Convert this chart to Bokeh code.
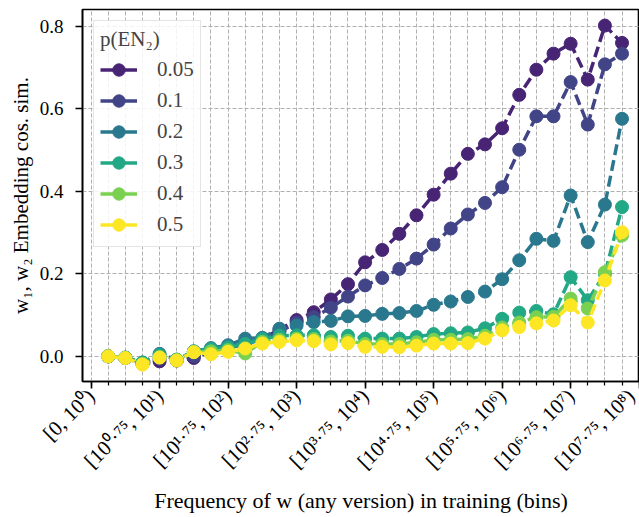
import math
from bokeh.plotting import figure
from bokeh.models import FixedTicker, Legend, LegendItem, Range1d, PrintfTickFormatter
from bokeh.embed import file_html
from bokeh.resources import INLINE

# ---- data ----
bins = list(range(1, 32))
tick_positions = [0, 4, 8, 12, 16, 20, 24, 28, 32]
tick_labels = ["[0, 10⁰)", "[10⁰·⁷⁵, 10¹)", "[10¹·⁷⁵, 10²)", "[10²·⁷⁵, 10³)",
               "[10³·⁷⁵, 10⁴)", "[10⁴·⁷⁵, 10⁵)", "[10⁵·⁷⁵, 10⁶)", "[10⁶·⁷⁵, 10⁷)",
               "[10⁷·⁷⁵, 10⁸)"]
series_names = ["0.05", "0.1", "0.2", "0.3", "0.4", "0.5"]
colors = ["#482475", "#414487", "#2a788e", "#22a884", "#7ad151", "#fde725"]

y_005 = [0.0, -0.004, -0.018, -0.012, -0.01, -0.004, 0.012, 0.02, 0.03, 0.042,
         0.065, 0.088, 0.107, 0.138, 0.175, 0.228, 0.258, 0.297, 0.342, 0.392,
         0.443, 0.491, 0.514, 0.553, 0.634, 0.695, 0.734, 0.758, 0.671, 0.802, 0.760]
y_01 = [0.0, -0.004, -0.016, -0.006, -0.01, 0.0, 0.012, 0.02, 0.032, 0.042,
        0.06, 0.082, 0.095, 0.118, 0.145, 0.172, 0.19, 0.212, 0.237, 0.271,
        0.31, 0.344, 0.372, 0.41, 0.501, 0.582, 0.582, 0.665, 0.562, 0.708, 0.734]
y_02 = [0.0, -0.003, -0.015, 0.006, -0.008, 0.012, 0.02, 0.027, 0.043, 0.045,
        0.067, 0.075, 0.083, 0.086, 0.097, 0.098, 0.103, 0.105, 0.11, 0.125,
        0.133, 0.144, 0.157, 0.187, 0.233, 0.285, 0.28, 0.39, 0.277, 0.368, 0.576]
y_03 = [0.0, -0.003, -0.015, 0.003, -0.008, 0.012, 0.018, 0.022, 0.03, 0.042,
        0.05, 0.051, 0.051, 0.047, 0.05, 0.043, 0.043, 0.043, 0.047, 0.054,
        0.056, 0.058, 0.068, 0.091, 0.106, 0.11, 0.102, 0.192, 0.136, 0.2, 0.362]
y_04 = [0.0, -0.004, -0.018, -0.002, -0.009, 0.011, 0.012, 0.015, 0.007, 0.035,
        0.04, 0.043, 0.042, 0.036, 0.038, 0.03, 0.03, 0.03, 0.034, 0.04,
        0.04, 0.042, 0.05, 0.07, 0.082, 0.095, 0.096, 0.14, 0.116, 0.204, 0.293]
y_05 = [0.0, -0.004, -0.02, -0.003, -0.01, 0.01, 0.005, 0.011, 0.019, 0.031,
        0.035, 0.039, 0.037, 0.029, 0.032, 0.023, 0.023, 0.022, 0.026, 0.031,
        0.031, 0.032, 0.043, 0.063, 0.071, 0.08, 0.087, 0.124, 0.082, 0.184, 0.301]
series_values = [y_005, y_01, y_02, y_03, y_04, y_05]

FONT = "Liberation Serif"

p = figure(width=639, height=517, output_backend="svg", toolbar_location=None,
           x_range=Range1d(-0.5, 32.02), y_range=Range1d(-0.061, 0.841),
           min_border_left=82, min_border_right=0, min_border_top=9,
           min_border_bottom=136)

p.outline_line_color = "black"
p.outline_line_width = 1.6
p.outline_line_alpha = 1.0

# axes
p.xaxis.ticker = FixedTicker(ticks=tick_positions, minor_ticks=list(range(0, 33)))
p.xaxis.major_label_overrides = {t: l for t, l in zip(tick_positions, tick_labels)}
p.xaxis.major_label_orientation = math.pi / 4
p.yaxis.ticker = FixedTicker(ticks=[0.0, 0.2, 0.4, 0.6, 0.8], minor_ticks=[])
p.yaxis.formatter = PrintfTickFormatter(format="%.1f")
for ax in (p.xaxis[0], p.yaxis[0]):
    ax.axis_line_color = "black"
    ax.axis_line_width = 1.6
    ax.major_tick_line_color = "black"
    ax.major_tick_line_width = 1.6
    ax.minor_tick_line_color = "black"
    ax.minor_tick_line_width = 1.2
    ax.major_tick_in = 0
    ax.major_tick_out = 7
    ax.minor_tick_in = 0
    ax.minor_tick_out = 4
    ax.major_label_text_font = FONT
    ax.major_label_text_color = "black"
    ax.axis_label_text_font = FONT
    ax.axis_label_text_font_style = "normal"
    ax.axis_label_text_color = "black"
p.yaxis.major_label_text_font_size = "19px"
p.xaxis.major_label_text_font_size = "21px"
p.xaxis.axis_label_text_font_size = "22px"
p.yaxis.axis_label_text_font_size = "21px"
p.yaxis.major_label_standoff = 12
p.xaxis.major_label_standoff = 4
p.xaxis.axis_label = "Frequency of w (any version) in training (bins)"
p.yaxis.axis_label = "w₁, w₂ Embedding cos. sim."
p.yaxis.axis_label_standoff = 4
p.xaxis.axis_label_standoff = 3

# grid
p.xgrid.ticker = FixedTicker(ticks=list(range(0, 33)))
for g in (p.xgrid[0], p.ygrid[0]):
    g.grid_line_color = "#b0b0b0"
    g.grid_line_dash = "4 2"
    g.grid_line_width = 1
    g.grid_line_alpha = 1.0

nan = float("nan")
items = []
for name, ys, c in zip(series_names, series_values, colors):
    p.line(x=bins, y=ys, line_color=c, line_width=3.5, line_dash="11 5")
    sc = p.scatter(x=bins, y=ys, size=13, fill_color=c, line_color=c)
    key = p.line(x=[nan], y=[nan], line_color=c, line_width=3.5)
    items.append(LegendItem(label=name, renderers=[key, sc]))

legend = Legend(items=items, location="top_left", title="p(EN₂)")
legend.title_text_font = FONT
legend.title_text_font_size = "21px"
legend.title_text_font_style = "normal"
legend.label_text_font = FONT
legend.label_text_font_size = "21px"
legend.glyph_width = 37
legend.glyph_height = 31
legend.label_height = 31
legend.label_standoff = 20
legend.spacing = 0
legend.padding = 6
legend.margin = 11
legend.title_standoff = 2
legend.border_line_color = "#cccccc"
legend.border_line_width = 1.5
legend.background_fill_color = "white"
legend.background_fill_alpha = 0.85
p.add_layout(legend)

open("out.html", "w").write(file_html(p, INLINE))
